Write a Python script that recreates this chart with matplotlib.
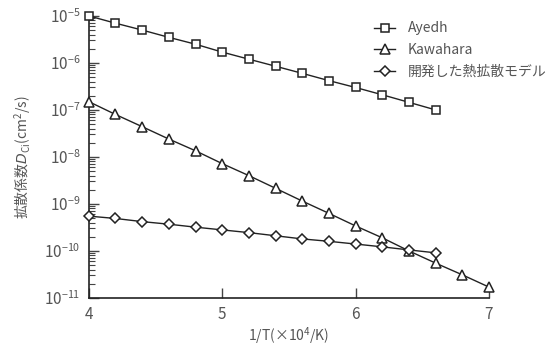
import matplotlib
matplotlib.use('Agg')
import matplotlib.pyplot as plt
from matplotlib.ticker import LogLocator, NullFormatter

plt.rcParams['font.family'] = ['Noto Sans CJK JP', 'DejaVu Sans']
plt.rcParams['mathtext.fontset'] = 'custom'
plt.rcParams['mathtext.rm'] = 'Noto Sans CJK JP'
plt.rcParams['mathtext.it'] = 'DejaVu Sans:italic'

# data
x_ayedh = [4.0, 4.2, 4.4, 4.6, 4.8, 5.0, 5.2, 5.4, 5.6, 5.8, 6.0, 6.2, 6.4, 6.6]
d_ayedh = [1e-5, 7e-6, 5e-6, 3.5e-6, 2.5e-6, 1.7e-6, 1.2e-6, 8.5e-7, 6e-7,
           4.2e-7, 3e-7, 2.1e-7, 1.45e-7, 1e-7]

x_kawa = [4.0, 4.2, 4.4, 4.6, 4.8, 5.0, 5.2, 5.4, 5.6, 5.8, 6.0, 6.2, 6.4,
          6.6, 6.8, 7.0]
d_kawa = [1.5e-7, 8e-8, 4.4e-8, 2.4e-8, 1.35e-8, 7.2e-9, 4e-9, 2.15e-9,
          1.15e-9, 6.3e-10, 3.4e-10, 1.9e-10, 1.0e-10, 5.5e-11, 3.1e-11, 1.7e-11]

x_model = [4.0, 4.2, 4.4, 4.6, 4.8, 5.0, 5.2, 5.4, 5.6, 5.8, 6.0, 6.2, 6.4, 6.6]
d_model = [5.5e-10, 4.9e-10, 4.2e-10, 3.7e-10, 3.2e-10, 2.8e-10, 2.45e-10,
           2.1e-10, 1.8e-10, 1.6e-10, 1.4e-10, 1.22e-10, 1.05e-10, 9.1e-11]

labels = ['Ayedh', 'Kawahara', '開発した熱拡散モデル']
xticks = [4, 5, 6, 7]
yticks = [1e-11, 1e-10, 1e-9, 1e-8, 1e-7, 1e-6, 1e-5]

fig = plt.figure(figsize=(5.55, 3.46), dpi=100)
ax = fig.add_axes([0.160, 0.139, 0.721, 0.815])

style = dict(color='#222222', lw=1.0, mfc='white', mec='#222222', mew=1.1,
             clip_on=False, zorder=3)
ax.plot(x_ayedh, d_ayedh, marker='s', ms=5.5, label=labels[0], **style)
ax.plot(x_kawa, d_kawa, marker='^', ms=6.5, label=labels[1], **style)
ax.plot(x_model, d_model, marker='D', ms=5, label=labels[2], **style)

ax.set_yscale('log')
ax.set_xlim(4, 7)
ax.set_ylim(1e-11, 1e-5)
ax.set_xticks(xticks)
ax.set_yticks(yticks)
ax.yaxis.set_minor_locator(LogLocator(base=10, subs=range(2, 10), numticks=10))
ax.yaxis.set_minor_formatter(NullFormatter())

for s in ['top', 'right']:
    ax.spines[s].set_visible(False)
for s in ['left', 'bottom']:
    ax.spines[s].set_linewidth(1.2)
    ax.spines[s].set_color('#222222')

ax.tick_params(axis='both', which='major', direction='in', length=7,
               width=1.0, color='#444444', labelsize=11, labelcolor='#555555', pad=6)
ax.tick_params(axis='y', which='minor', direction='in', length=4,
               width=0.8, color='#444444')

ax.set_xlabel('1/T(×10$^4$/K)', fontsize=10, color='#555555', labelpad=1)
ax.set_ylabel('拡散係数$D_{\\rm Ci}$(cm$^2$/s)', fontsize=10,
              color='#555555', labelpad=8)

ax.legend(loc='upper left', bbox_to_anchor=(0.70, 1.0), frameon=False,
          fontsize=10, handlelength=1.5, handletextpad=0.9,
          labelspacing=0.55, labelcolor='#555555', borderaxespad=0)

fig.savefig('out.png', dpi=100)
